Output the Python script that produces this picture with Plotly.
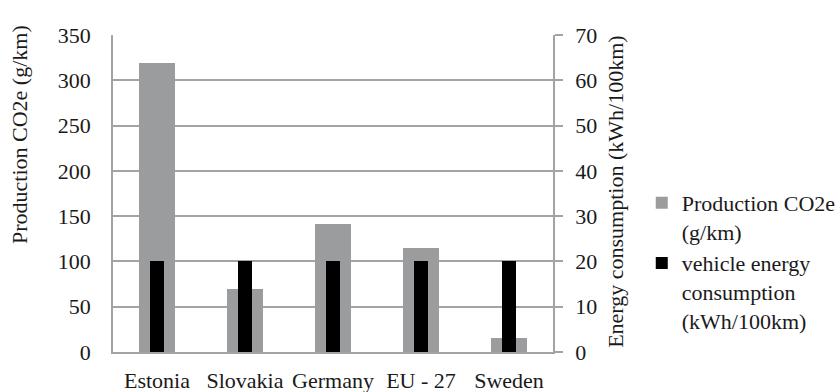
import plotly.graph_objects as go

countries = ["Estonia", "Slovakia", "Germany", "EU - 27", "Sweden"]
production_co2e = [319, 70, 141, 115, 16]          # g/km, left axis
energy_consumption = [20, 20, 20, 20, 20]          # kWh/100km, right axis

left_ticks = list(range(0, 351, 50))
right_ticks = list(range(0, 71, 10))

FONT = "Liberation Serif, Times New Roman, serif"
TEXT = "#1a1a1a"
GRID = "#a3a3a3"
FS = 22

fig = go.Figure()
fig.add_trace(go.Bar(
    x=countries, y=production_co2e, name="Production CO2e<br>(g/km)",
    marker=dict(color="#9a9c9e", line=dict(width=0)), width=0.4, yaxis="y",
))
fig.add_trace(go.Bar(
    x=countries, y=energy_consumption, name="vehicle energy<br>consumption<br>(kWh/100km)",
    marker=dict(color="#000000", line=dict(width=0)), width=0.17, yaxis="y2",
))

fig.update_layout(
    width=840, height=392,
    margin=dict(l=113, r=287, t=35, b=40, autoexpand=False),
    paper_bgcolor="white", plot_bgcolor="white",
    barmode="overlay",
    font=dict(family=FONT, size=FS, color=TEXT),
    xaxis=dict(
        showline=True, linecolor=GRID, linewidth=1.5,
        ticks="", tickfont=dict(size=FS), showgrid=False,
        ticklabelstandoff=8, automargin=False,
    ),
    yaxis=dict(
        range=[0, 350], tickvals=left_ticks, ticktext=[str(v) for v in left_ticks],
        showgrid=True, gridcolor=GRID, gridwidth=1.5,
        showline=True, linecolor=GRID, linewidth=1.5, zeroline=False,
        ticks="", ticklabelstandoff=16, automargin=False,
    ),
    yaxis2=dict(
        range=[0, 70], tickvals=right_ticks, ticktext=[str(v) for v in right_ticks],
        overlaying="y", side="right", showgrid=False,
        showline=True, linecolor=GRID, linewidth=1.5, zeroline=False,
        ticks="outside", ticklen=8, tickcolor=GRID, tickwidth=1.5,
        ticklabelstandoff=8, automargin=False,
    ),
    legend=dict(
        xref="container", yref="container",
        x=0.764, xanchor="left", y=0.536, yanchor="top",
        font=dict(size=FS), tracegroupgap=19, valign="top",
        bgcolor="rgba(0,0,0,0)",
    ),
    annotations=[
        dict(text="Production CO2e (g/km)", textangle=-90, showarrow=False,
             xref="paper", yref="paper", x=-0.211, y=0.685,
             xanchor="center", yanchor="middle", font=dict(size=FS)),
        dict(text="Energy consumption (kWh/100km)", textangle=-90, showarrow=False,
             xref="paper", yref="paper", x=1.143, y=0.505,
             xanchor="center", yanchor="middle", font=dict(size=FS)),
    ],
    bargap=0.0,
)

fig.write_html("out.html")
